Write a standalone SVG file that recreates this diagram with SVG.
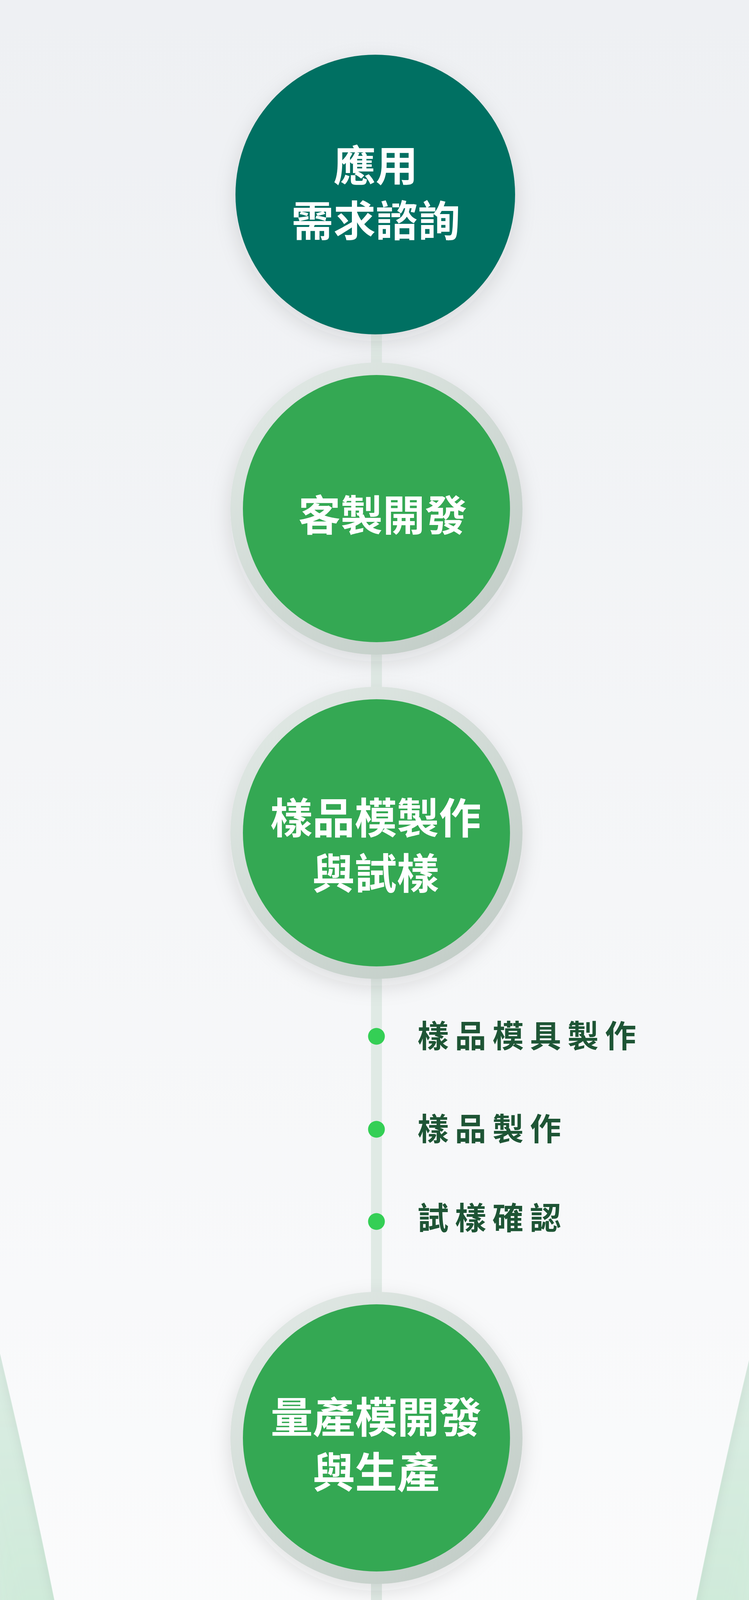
<svg xmlns="http://www.w3.org/2000/svg" width="1918" height="7418" viewBox="0 0 1918 7418">
<defs>
<style>
.main{font-family:'Noto Sans CJK TC','Noto Sans CJK SC',sans-serif;font-weight:700;font-size:108px;fill:#ffffff;text-anchor:middle}
.sub{font-family:'Noto Sans CJK TC','Noto Sans CJK SC',sans-serif;font-weight:700;font-size:80px;fill:#1e5535;letter-spacing:16px}
.dot{fill:#34cf55}
.green{fill:#34a853}
.teal{fill:#006f62}
.ring{fill:url(#ringGrad)}
</style>
<linearGradient id="funnelGrad" gradientUnits="userSpaceOnUse" x1="0" y1="0" x2="0" y2="5600">
<stop offset="0" stop-color="#eef0f3"/>
<stop offset="1" stop-color="#ffffff"/>
</linearGradient>
<linearGradient id="ringGrad" x1="0.15" y1="0.05" x2="0.85" y2="0.95">
<stop offset="0" stop-color="#e0e8e4"/>
<stop offset="1" stop-color="#c2cdc7"/>
</linearGradient>
<linearGradient id="glowFade" gradientUnits="userSpaceOnUse" x1="0" y1="3200" x2="0" y2="7000">
<stop offset="0" stop-color="#fff" stop-opacity="0.45"/>
<stop offset="0.3" stop-color="#fff" stop-opacity="1"/>
<stop offset="0.55" stop-color="#fff" stop-opacity="1"/>
<stop offset="0.85" stop-color="#fff" stop-opacity="0.3"/>
<stop offset="1" stop-color="#fff" stop-opacity="0"/>
</linearGradient>
<mask id="glowMask" maskUnits="userSpaceOnUse" x="-200" y="2800" width="2318" height="4618">
<rect x="-200" y="2800" width="2318" height="4618" fill="url(#glowFade)"/>
</mask>
<filter id="blurGlow" filterUnits="userSpaceOnUse" x="-600" y="2600" width="3118" height="5000">
<feGaussianBlur stdDeviation="60"/>
</filter>
<filter id="funnelShadow" filterUnits="userSpaceOnUse" x="-200" y="-200" width="2318" height="7700">
<feDropShadow dx="0" dy="10" stdDeviation="14" flood-color="#3a4a44" flood-opacity="0.07"/>
</filter>
<filter id="nodeShadow" x="-30%" y="-30%" width="160%" height="170%">
<feDropShadow dx="0" dy="18" stdDeviation="26" flood-color="#24352d" flood-opacity="0.13"/>
</filter>
</defs>

<rect x="0" y="0" width="1918" height="7418" fill="#eff1f4"/>

<g id="background-glow" mask="url(#glowMask)">
<path d="M -104 3030 L 0 3465 Q 420 5215 420 6750 A 541 541 0 0 0 961 7291 A 541 541 0 0 0 1502 6750 Q 1502 5215 1922 3465 L 2026 3030" fill="none" stroke="#cbe9d6" stroke-width="420" filter="url(#blurGlow)"/>
</g>

<path id="funnel" d="M -50 -50 H 1968 V 3465 H 1922 Q 1502 5215 1502 6750 A 541 541 0 0 1 420 6750 Q 420 5215 0 3465 H -50 Z" fill="url(#funnelGrad)" filter="url(#funnelShadow)"/>

<g id="connectors">
<line x1="964" y1="840" x2="964" y2="6590" stroke="#e0eae5" stroke-width="28"/>
</g>

<g id="node-1">
<circle cx="961" cy="498" r="358" class="teal" filter="url(#nodeShadow)"/>
<text class="main" x="962" y="464">應用</text>
<text class="main" x="962" y="605">需求諮詢</text>
</g>

<g id="node-2">
<circle cx="964" cy="1302" r="374" class="ring" filter="url(#nodeShadow)"/>
<circle cx="964" cy="1302" r="342" class="green"/>
<text class="main" x="980" y="1359">客製開發</text>
</g>

<g id="node-3">
<circle cx="964" cy="2132" r="374" class="ring" filter="url(#nodeShadow)"/>
<circle cx="964" cy="2132" r="342" class="green"/>
<text class="main" x="962" y="2134">樣品模製作</text>
<text class="main" x="962" y="2276">與試樣</text>
</g>

<g id="steps-sample">
<circle cx="964" cy="2653" r="21.5" class="dot"/>
<text class="sub" x="1069" y="2681">樣品模具製作</text>
<circle cx="964" cy="2891" r="21.5" class="dot"/>
<text class="sub" x="1069" y="2919">樣品製作</text>
<circle cx="964" cy="3127" r="21.5" class="dot"/>
<text class="sub" x="1069" y="3147">試樣確認</text>
</g>

<g id="node-4">
<circle cx="964" cy="3681" r="374" class="ring" filter="url(#nodeShadow)"/>
<circle cx="964" cy="3681" r="342" class="green"/>
<text class="main" x="963" y="3668">量產模開發</text>
<text class="main" x="963" y="3809">與生產</text>
</g>

<g id="steps-production">
<circle cx="964" cy="4195" r="21.5" class="dot"/>
<text class="sub" x="419" y="4236">進料與備料</text>
<circle cx="964" cy="4456" r="21.5" class="dot"/>
<text class="sub" x="516" y="4435">加硫加工</text>
<text class="sub" x="516" y="4555">二次加工</text>
<circle cx="964" cy="4725" r="21.5" class="dot"/>
<text class="sub" x="516" y="4760">毛邊處理</text>
</g>

<g id="node-5">
<circle cx="964" cy="5266" r="374" class="ring" filter="url(#nodeShadow)"/>
<circle cx="964" cy="5266" r="342" class="green"/>
<text class="main" x="964" y="5324">品質檢驗</text>
</g>

<g id="node-6">
<circle cx="964" cy="6090" r="374" class="ring" filter="url(#nodeShadow)"/>
<circle cx="964" cy="6090" r="342" class="green"/>
<text class="main" x="966" y="6139">包裝與出貨</text>
</g>

<g id="node-7">
<circle cx="961" cy="6931" r="358" class="teal" filter="url(#nodeShadow)"/>
<text class="main" x="967" y="6908">售後</text>
<text class="main" x="967" y="7049">服務</text>
</g>
</svg>
